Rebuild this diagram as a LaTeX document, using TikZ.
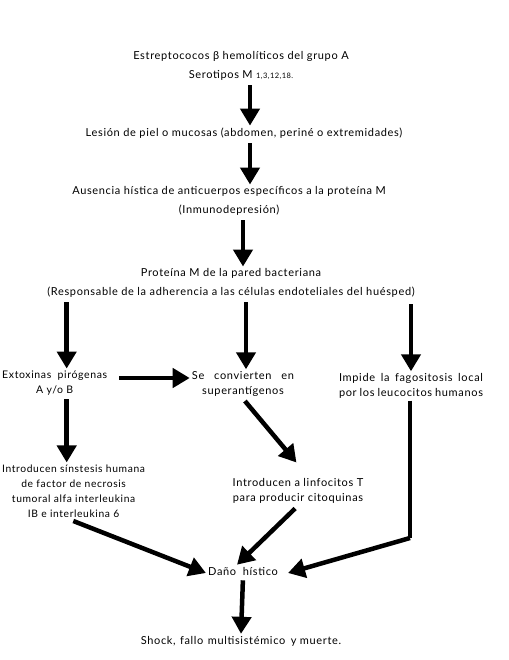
\documentclass[tikz,border=0pt]{standalone}
\usepackage{fontspec}
\setmainfont{Lato}[LetterSpace=6]
\usetikzlibrary{arrows.meta,positioning}

\tikzset{
  basic/.style  = {inner sep=2pt, align=center, font=\fontsize{11}{15}\selectfont},
  wide/.style   = {basic, font=\fontsize{11}{18.5}\selectfont},
  arr/.style    = {line width=4.5pt, -{Triangle[length=17pt,width=19pt]}},
  line/.style   = {line width=4.5pt}
}

\begin{document}
\begin{tikzpicture}[x=1pt, y=-1pt]
\useasboundingbox (0,0) rectangle (508,660);

% main chain, top to bottom
\node[wide] (strep) at (241,66) {Estreptococos β hemolíticos del grupo A\\
  Serotipos M {\fontsize{7.5}{8}\selectfont 1,3,12,18.}};
\node[basic] (lesion) at (244,133) {Lesión de piel o mucosas (abdomen, periné o extremidades)};
\node[wide] (ausencia) at (229,201) {Ausencia hística de anticuerpos específicos a la proteína M\\
  (Inmunodepresión)};
\node[wide] (prot) at (231,283) {Proteína M de la pared bacteriana\\
  (Responsable de la adherencia a las células endoteliales del huésped)};

% the three branches
\node[basic, anchor=west, font=\fontsize{10.5}{15}\selectfont] (extox) at (0,383)
  {Extoxinas\hspace{0.6em}pirógenas\\ A y/o B};
\node[basic] (superag) at (243,384) {Se\hspace{0.9em}convierten\hspace{0.9em}en\\ superantígenos};
\node[basic, text width=144pt, align=justify] (impide) at (411,386)
  {Impide la fagositosis local\linebreak por los leucocitos humanos};
\node[basic, anchor=west, font=\fontsize{10.3}{15}\selectfont] (sintesis) at (0,491)
  {Introducen sínstesis humana\\ de factor de necrosis\\
  tumoral alfa interleukina\\ IB e interleukina 6};
\node[basic] (linfo) at (298,491) {Introducen a linfocitos T\\ para producir citoquinas};

% end of the chain
\node[basic] (dano) at (243,571) {Daño\hspace{0.6em}hístico};
\node[basic] (shock) at (241,641) {Shock,\hspace{0.4em}fallo\hspace{0.4em}multisistémico\hspace{0.5em}y muerte.};

\coordinate (bend) at (410,538);

\draw[arr, shorten <=3pt] ([xshift=9pt]strep.south) -- ([xshift=6pt]lesion.north);
\draw[arr, shorten <=3pt] ([xshift=6pt]lesion.south) -- ([xshift=6pt]lesion.south |- ausencia.north);
\draw[arr, shorten <=3pt] ([xshift=14pt]ausencia.south) -- ([xshift=14pt]ausencia.south |- prot.north);

\draw[arr, shorten <=3pt] ([xshift=12pt]extox.north |- prot.south) -- ([xshift=12pt]extox.north);
\draw[arr, shorten <=3pt] ([xshift=3pt]superag.north |- prot.south) -- ([xshift=3pt]superag.north);
\draw[arr, shorten <=5pt] (impide.north |- prot.south) -- (impide.north);

\draw[arr, shorten <=10pt] ([yshift=5pt]extox.east) -- ([yshift=5pt]extox.east -| superag.west);
\draw[arr, shorten <=2pt] ([xshift=12pt]extox.south) -- ([xshift=12pt]extox.south |- sintesis.north);
\draw[arr, shorten <=3pt, shorten >=18pt] (superag.south) -- ([xshift=10pt]linfo.north);

\draw[arr, shorten <=4pt] ([xshift=-4pt]sintesis.south) -- ([yshift=-2pt]dano.west);
\draw[arr, shorten <=4pt] (linfo.south) -- ([xshift=-6pt]dano.north);
\draw[line] (impide.south -| bend) -- (bend);
\draw[arr] (bend) -- ([xshift=8pt,yshift=-2pt]dano.east);

\draw[arr, shorten <=3pt] (dano.south) -- (shock.north);
\end{tikzpicture}
\end{document}
